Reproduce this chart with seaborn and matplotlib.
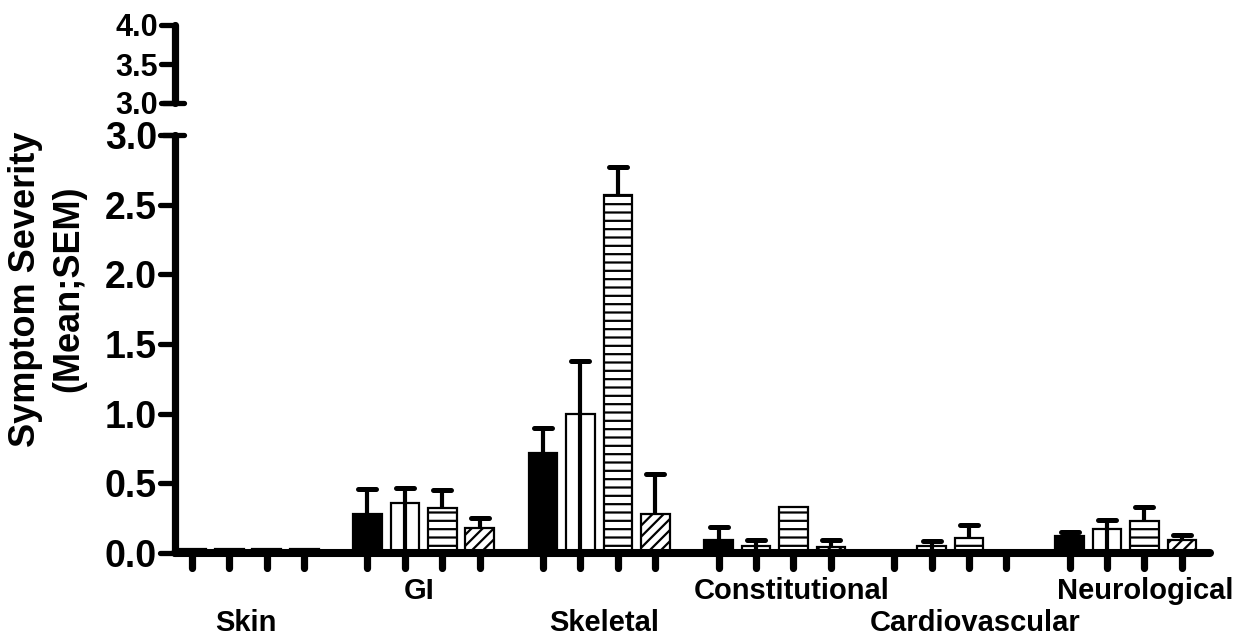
import numpy as np
import pandas as pd
import matplotlib
matplotlib.use("Agg")
import matplotlib.pyplot as plt
from matplotlib.markers import MarkerStyle, TICKLEFT, TICKDOWN
from matplotlib.transforms import blended_transform_factory, offset_copy
import seaborn as sns

# ---- data -------------------------------------------------------------
categories = ["Skin", "GI", "Skeletal", "Constitutional", "Cardiovascular", "Neurological"]
series = ["Group 1", "Group 2", "Group 3", "Group 4"]

mean_g1 = [0.03, 0.28, 0.72, 0.09, 0.00, 0.12]
mean_g2 = [0.03, 0.36, 1.00, 0.05, 0.05, 0.17]
mean_g3 = [0.03, 0.32, 2.57, 0.33, 0.11, 0.23]
mean_g4 = [0.03, 0.18, 0.28, 0.04, 0.00, 0.09]

sem_g1 = [0.0, 0.18, 0.18, 0.10, 0.00, 0.03]
sem_g2 = [0.0, 0.11, 0.38, 0.04, 0.035, 0.07]
sem_g3 = [0.0, 0.13, 0.20, 0.00, 0.09, 0.10]
sem_g4 = [0.0, 0.07, 0.29, 0.05, 0.00, 0.04]

y_ticks_main = [0.0, 0.5, 1.0, 1.5, 2.0, 2.5, 3.0]
y_ticks_top = [3.0, 3.5, 4.0]

# layout of the category captions: row (0 upper, 1 lower) and horizontal nudge in px
label_row = [1, 0, 1, 0, 1, 0]
label_nudge_px = [-2, -5, 5, 17, 25, 19]

means = [mean_g1, mean_g2, mean_g3, mean_g4]
sems = [sem_g1, sem_g2, sem_g3, sem_g4]
fills = ["black", "white", "white", "white"]
hatches = [None, None, "--", "///"]

df = pd.DataFrame({
    "category": np.repeat([categories], len(series), axis=0).ravel(),
    "series": np.repeat(series, len(categories)),
    "mean": np.concatenate(means),
})

# ---- style ------------------------------------------------------------
sns.set_style("ticks")
plt.rcParams["font.family"] = ["Liberation Sans", "DejaVu Sans"]
plt.rcParams["font.weight"] = "bold"
plt.rcParams["text.color"] = "black"
plt.rcParams["xtick.color"] = "black"
plt.rcParams["ytick.color"] = "black"
plt.rcParams["axes.labelcolor"] = "black"
plt.rcParams["hatch.linewidth"] = 1.6
plt.rcParams["hatch.color"] = "black"

fig = plt.figure(figsize=(12.42, 6.37), dpi=100)
W, H = 1242, 637
ax = fig.add_axes([175 / W, 84 / H, 1035 / W, 418 / H])
ax_top = fig.add_axes([175 / W, 534 / H, 1035 / W, 78 / H])

sns.barplot(
    data=df, x="category", y="mean", hue="series",
    order=categories, hue_order=series,
    palette=fills, saturation=1, width=0.854, gap=0.23,
    edgecolor="black", linewidth=1.6, errorbar=None, legend=False, ax=ax,
)

# hatching and error bars (SEM, upper side)
bar_centers = []
for k, container in enumerate(ax.containers):
    xs = np.array([b.get_x() + b.get_width() / 2 for b in container])
    bar_centers.extend(xs)
    for b in container:
        b.set_edgecolor("black")
        if hatches[k]:
            b.set_hatch(hatches[k])
    m = np.asarray(means[k])
    s = np.asarray(sems[k])
    show = s > 0
    base = np.zeros_like(m) if fills[k] == "white" and hatches[k] is None else m
    ax.vlines(xs[show], base[show], (m + s)[show], colors="black",
              linewidth=3.0, zorder=3)
    ax.plot(xs[show], (m + s)[show], linestyle="none",
            marker=MarkerStyle("_", capstyle="round"), markersize=13,
            markeredgewidth=3.6, color="black", zorder=3)

# ---- main axis ----------------------------------------------------------
ax.set_xlim(-0.417, 5.48)
ax.set_ylim(0, 3.0)
ax.set_yticks(y_ticks_main)
ax.set_yticklabels([f"{v:.1f}" for v in y_ticks_main], fontsize=27, fontweight="bold")
ax.set_xticks(sorted(bar_centers))
ax.set_xticklabels([])
ax.tick_params(axis="x", which="major", length=11, width=5.2, direction="out")
ax.tick_params(axis="y", which="major", length=11, width=3.8, pad=2)
ax.set_xlabel("")
ax.set_ylabel("")
for side in ["top", "right"]:
    ax.spines[side].set_visible(False)
ax.spines["left"].set_linewidth(5.2)
ax.spines["bottom"].set_linewidth(5.8)
for side in ["left", "bottom"]:
    ax.spines[side].set_color("black")
    ax.spines[side].set_capstyle("round")

# category captions in two staggered rows below the axis
row_y_px = [591, 623]
trans = blended_transform_factory(ax.transData, fig.transFigure)
for i, (cat, row, dx) in enumerate(zip(categories, label_row, label_nudge_px)):
    t = offset_copy(trans, fig=fig, x=dx, y=0, units="dots")
    ax.text(i, 1 - row_y_px[row] / H, cat, transform=t, ha="center", va="center",
            fontsize=21, fontweight="bold", clip_on=False)

# ---- upper (broken) axis segment ---------------------------------------
ax_top.set_ylim(3.0, 4.0)
ax_top.set_xlim(ax.get_xlim())
ax_top.set_yticks(y_ticks_top)
ax_top.set_yticklabels([f"{v:.1f}" for v in y_ticks_top], fontsize=22, fontweight="bold")
ax_top.set_xticks([])
ax_top.tick_params(axis="y", length=10, width=3.8, pad=2)
for side in ["top", "right", "bottom"]:
    ax_top.spines[side].set_visible(False)
ax_top.spines["left"].set_linewidth(5.2)
ax_top.spines["left"].set_color("black")
ax_top.spines["left"].set_capstyle("round")
ax_top.patch.set_alpha(0)

# break marks at 3.0 on both segments
for a in (ax, ax_top):
    a.plot([-0.012, 0.009], [3.0, 3.0], transform=a.get_yaxis_transform(),
           color="black", linewidth=3.8, solid_capstyle="round", clip_on=False)

# rounded tick ends
for a in (ax, ax_top):
    for ln in a.yaxis.get_ticklines():
        ln.set_marker(MarkerStyle(TICKLEFT, capstyle="round"))
for ln in ax.xaxis.get_ticklines():
    ln.set_marker(MarkerStyle(TICKDOWN, capstyle="round"))

fig.text(47 / W, 1 - 289 / H, "Symptom Severity\n(Mean;SEM)", rotation=90,
         ha="center", va="center", fontsize=26, fontweight="bold", linespacing=1.3)

fig.savefig("out.png", dpi=100, facecolor="white")
